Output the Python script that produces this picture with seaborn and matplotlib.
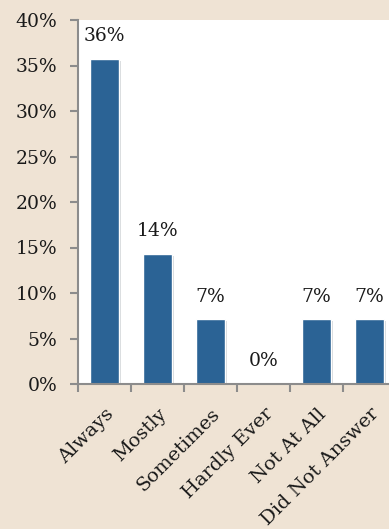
import matplotlib
matplotlib.use("Agg")
import matplotlib.pyplot as plt
import matplotlib.patheffects as pe
import matplotlib.transforms as mtransforms
import seaborn as sns
import pandas as pd
from matplotlib.ticker import FuncFormatter, FixedLocator

categories = ["Always", "Mostly", "Sometimes", "Hardly Ever", "Not At All", "Did Not Answer"]
shares = [35.7, 14.3, 7.1, 0.0, 7.1, 7.1]
labels = ["36%", "14%", "7%", "0%", "7%", "7%"]

df = pd.DataFrame({"answer": categories, "share": shares})

sns.set_style("white")
plt.rcParams["font.family"] = ["DejaVu Serif"]

bg = "#EFE3D4"
bar_color = "#2B6395"
axis_gray = "#8C8C8C"
txt = "#1a1a1a"

fig = plt.figure(figsize=(3.89, 5.29), dpi=100, facecolor=bg)
ax = fig.add_axes([78 / 389, 1 - 384 / 529, 318 / 389, 364 / 529])
ax.set_facecolor("white")

sns.barplot(data=df, x="answer", y="share", color=bar_color, width=0.55,
            saturation=1, ax=ax)
for p in ax.patches:
    p.set_path_effects([pe.SimplePatchShadow(offset=(1.5, -1.5), alpha=0.18), pe.Normal()])

ax.set_ylim(0, 40)
ax.set_xlim(-0.5, len(categories) - 0.5)
ax.yaxis.set_major_locator(FixedLocator(range(0, 41, 5)))
ax.yaxis.set_major_formatter(FuncFormatter(lambda v, p: f"{v:.0f}%"))
ax.set_xlabel("")
ax.set_ylabel("")

for i, (v, t) in enumerate(zip(shares, labels)):
    ax.annotate(t, (i, v), xytext=(0, 10), textcoords="offset points",
                ha="center", va="bottom", fontsize=13.5, color=txt)

# tick marks between categories, labels at centers
ax.set_xticks([i - 0.5 for i in range(len(categories))])
ax.set_xticklabels([])
ax.set_xticks(range(len(categories)), minor=True)
ax.set_xticklabels(categories, minor=True, rotation=45, ha="right",
                   rotation_mode="anchor", fontsize=14, color=txt)
shift = mtransforms.ScaledTranslation(-4 / 100, 0, fig.dpi_scale_trans)
for lab in ax.get_xticklabels(minor=True):
    lab.set_transform(lab.get_transform() + shift)
ax.tick_params(axis="x", which="minor", length=0, pad=15)
ax.tick_params(axis="x", which="major", length=6, width=1.5, color=axis_gray, direction="out")
ax.tick_params(axis="y", length=6, width=1.5, color=axis_gray, direction="out",
               labelsize=13.5, labelcolor=txt, pad=9)
ax.tick_params(bottom=True, left=True)

for s in ["top", "right"]:
    ax.spines[s].set_visible(False)
for s in ["left", "bottom"]:
    ax.spines[s].set_color(axis_gray)
    ax.spines[s].set_linewidth(1.5)

fig.savefig("out.png", dpi=100, facecolor=bg)
